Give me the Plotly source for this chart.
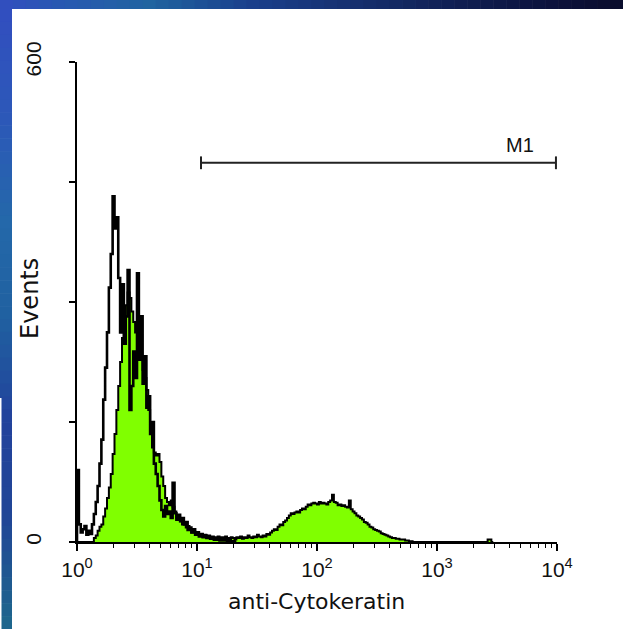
import numpy as np
import plotly.graph_objects as go

# Log-scale channel layout: 64 channels per decade over four decades
channels_per_decade = 64

# Events per channel, stained sample (filled histogram)
sample_counts = [
    0, 0, 0, 0, 0, 0, 0, 0, 0,
    5, 8, 14, 19, 22, 32, 42, 55, 68, 85, 110,
    135, 165, 195, 225, 255, 280, 296, 312, 305, 288,
    275, 262, 250, 238, 228, 215, 205, 190, 165, 135,
    118, 112, 108, 110, 100, 82, 70, 55, 50, 46,
    52, 44, 38, 30, 32, 26, 22, 24, 18, 20,
    15, 12, 14, 10, 12, 8, 10, 7, 9, 6,
    8, 5, 7, 6, 4, 7, 5, 6, 4, 7,
    5, 4, 6, 5, 3, 6, 5, 7, 4, 6,
    5, 8, 6, 5, 7, 6, 9, 7, 6, 8,
    7, 10, 9, 12, 14, 16, 15, 19, 22, 21,
    25, 27, 30, 33, 36, 35, 37, 38, 37, 40,
    42, 41, 44, 47, 46, 48, 49, 48, 47, 50,
    48, 49, 48, 47, 50, 52, 59, 50, 49, 46,
    47, 45, 46, 44, 43, 52, 41, 38, 36, 33,
    32, 30, 28, 25, 24, 22, 19, 18, 16, 15,
    14, 13, 11, 10, 9, 8, 7, 6, 5, 5,
    4, 4, 3, 3, 3, 2, 2, 1, 1, 0,
    0, 0, 0, 0, 0, 0, 0, 0, 0, 0,
    0, 0, 0, 0, 0, 0, 0, 0, 0, 0,
    0, 0, 0, 0, 0, 0, 0, 0, 0, 0,
    0, 0, 0, 0, 0, 0, 0, 0, 0, 3,
    3, 0,
]

# Events per channel, isotype control (open histogram)
control_counts = [
    90, 22, 12, 16, 20, 9, 14, 10, 22, 35,
    50, 70, 98, 128, 178, 218, 262, 318, 360, 432,
    392, 406, 330, 262, 322, 248, 282, 340, 165, 195,
    238, 205, 336, 228, 282, 198, 232, 168, 182, 135,
    150, 98, 85, 70, 52, 40, 32, 45, 35, 38,
    30, 74, 36, 28, 34, 26, 30, 22, 25, 15,
    18, 12, 16, 9, 12, 7, 10, 6, 8, 5,
    6, 4, 5, 3, 4, 3, 2, 3, 2, 2,
    1, 2, 1, 1, 0,
]

# M1 gate marker
marker_range = [10.8, 9800]
marker_level = 474
marker_cap = 8
marker_label = "M1"
marker_label_pos = [4900, 496]

# Axes
x_tick_values = [1, 10, 100, 1000, 10000]
x_tick_text = ["10<sup>0</sup>", "10<sup>1</sup>", "10<sup>2</sup>",
               "10<sup>3</sup>", "10<sup>4</sup>"]
x_minor_values = [m * 10 ** k for k in range(4) for m in range(2, 10)]
y_tick_values = [0, 600]
y_tick_text = ["0", "600"]
y_minor_values = [150, 300, 450]
x_title = "anti-Cytokeratin"
y_title = "Events"


def step_outline(counts):
    """Closed step outline of a channel histogram on the log axis."""
    counts = np.asarray(counts, dtype=float)
    edges = 10 ** (np.arange(len(counts) + 1) / channels_per_decade)
    x = np.concatenate([[edges[0]], edges[:-1], [edges[-1], edges[-1]]])
    y = np.concatenate([[0.0], counts, [counts[-1], 0.0]])
    return x, y


fig = go.Figure()

sx, sy = step_outline(sample_counts)
fig.add_trace(go.Scatter(
    x=sx, y=sy, mode="lines", line=dict(color="black", width=2, shape="hv"),
    fill="tozeroy", fillcolor="#80FF00", hoverinfo="skip", showlegend=False,
))

cx, cy = step_outline(control_counts)
fig.add_trace(go.Scatter(
    x=cx, y=cy, mode="lines", line=dict(color="black", width=2.6, shape="hv"),
    hoverinfo="skip", showlegend=False,
))

lo, hi = marker_range
fig.add_trace(go.Scatter(
    x=[lo, hi, None, lo, lo, None, hi, hi],
    y=[marker_level, marker_level, None,
       marker_level - marker_cap, marker_level + marker_cap, None,
       marker_level - marker_cap, marker_level + marker_cap],
    mode="lines", line=dict(color="#222222", width=2),
    hoverinfo="skip", showlegend=False, cliponaxis=False,
))

# Frame decoration: blue gradient strips along the top and left edges
W, H = 623, 629
L, T, PW, PH = 77, 62, 480, 480


def px_x(px):
    return (px - L) / PW


def px_y(py):
    return (T + PH - py) / PH


def blend(stops, t):
    for (t0, c0), (t1, c1) in zip(stops[:-1], stops[1:]):
        if t0 <= t <= t1:
            f = (t - t0) / (t1 - t0) if t1 > t0 else 0
            c = [round(a + (b - a) * f) for a, b in zip(c0, c1)]
            return "rgb(%d,%d,%d)" % tuple(c)
    return "rgb(%d,%d,%d)" % tuple(stops[-1][1])


top_stops = [(0, (50, 78, 192)), (60, (40, 88, 178)), (150, (32, 100, 160)),
             (250, (26, 64, 140)), (350, (22, 48, 112)), (450, (16, 32, 84)),
             (550, (12, 18, 60)), (623, (10, 12, 44))]
left_stops = [(0, (50, 78, 192)), (120, (44, 88, 184)), (220, (36, 104, 170)),
              (320, (32, 96, 160)), (420, (34, 66, 156)), (520, (32, 70, 150)),
              (629, (30, 104, 140))]

shapes = []
n = 48
for i in range(n):
    a, b = W * i / n, W * (i + 1) / n + 0.6
    shapes.append(dict(type="rect", xref="paper", yref="paper",
                       x0=px_x(a), x1=px_x(b), y0=px_y(9), y1=px_y(0),
                       line=dict(width=0), fillcolor=blend(top_stops, (a + b) / 2),
                       layer="below"))
for i in range(n):
    a, b = 9 + (H - 9) * i / n, 9 + (H - 9) * (i + 1) / n + 0.6
    shapes.append(dict(type="rect", xref="paper", yref="paper",
                       x0=px_x(0), x1=px_x(12), y0=px_y(b), y1=px_y(a),
                       line=dict(width=0), fillcolor=blend(left_stops, (a + b) / 2),
                       layer="below"))
shapes.append(dict(type="rect", xref="paper", yref="paper",
                   x0=px_x(0), x1=px_x(1.5), y0=px_y(H), y1=px_y(398),
                   line=dict(width=0), fillcolor="white", layer="below"))

tick_font = dict(family="Liberation Sans, Arial, sans-serif", size=21, color="#111111")
title_font = dict(family="DejaVu Sans, sans-serif", size=22, color="#111111")

fig.update_layout(
    width=W, height=H,
    margin=dict(l=L, r=W - L - PW, t=T, b=H - T - PH),
    paper_bgcolor="white", plot_bgcolor="white",
    shapes=shapes,
    xaxis=dict(
        type="log", range=[0, 4], showgrid=False, zeroline=False,
        showline=True, linecolor="black", linewidth=2,
        ticks="outside", ticklen=7, tickwidth=1.5, tickcolor="black",
        tickvals=x_tick_values, ticktext=x_tick_text, tickfont=tick_font,
        ticklabelstandoff=1,
        minor=dict(tickvals=x_minor_values, ticks="outside", ticklen=4,
                   tickwidth=1.2, tickcolor="black", showgrid=False),
    ),
    yaxis=dict(
        range=[0, 600], showgrid=False, zeroline=False,
        showline=True, linecolor="black", linewidth=2,
        ticks="outside", ticklen=6, tickwidth=1.5, tickcolor="black",
        tickvals=y_tick_values, ticktext=y_tick_text, tickfont=tick_font,
        tickangle=-90, ticklabelstandoff=20,
        minor=dict(tickvals=y_minor_values, ticks="outside", ticklen=6,
                   tickwidth=1.5, tickcolor="black", showgrid=False),
    ),
    annotations=[
        dict(text=x_title, xref="paper", yref="paper", x=px_x(316), y=px_y(601),
             xanchor="center", yanchor="middle", showarrow=False, font=title_font),
        dict(text=y_title, xref="paper", yref="paper", x=px_x(30), y=px_y(299),
             xanchor="center", yanchor="middle", textangle=-90, showarrow=False,
             font=dict(title_font, size=24)),
        dict(text=marker_label, xref="x", yref="y",
             x=np.log10(marker_label_pos[0]), y=marker_label_pos[1],
             xanchor="center", yanchor="middle", showarrow=False,
             font=dict(family="Liberation Sans, Arial, sans-serif", size=20,
                       color="#111111")),
    ],
)

fig.write_html("out.html")
